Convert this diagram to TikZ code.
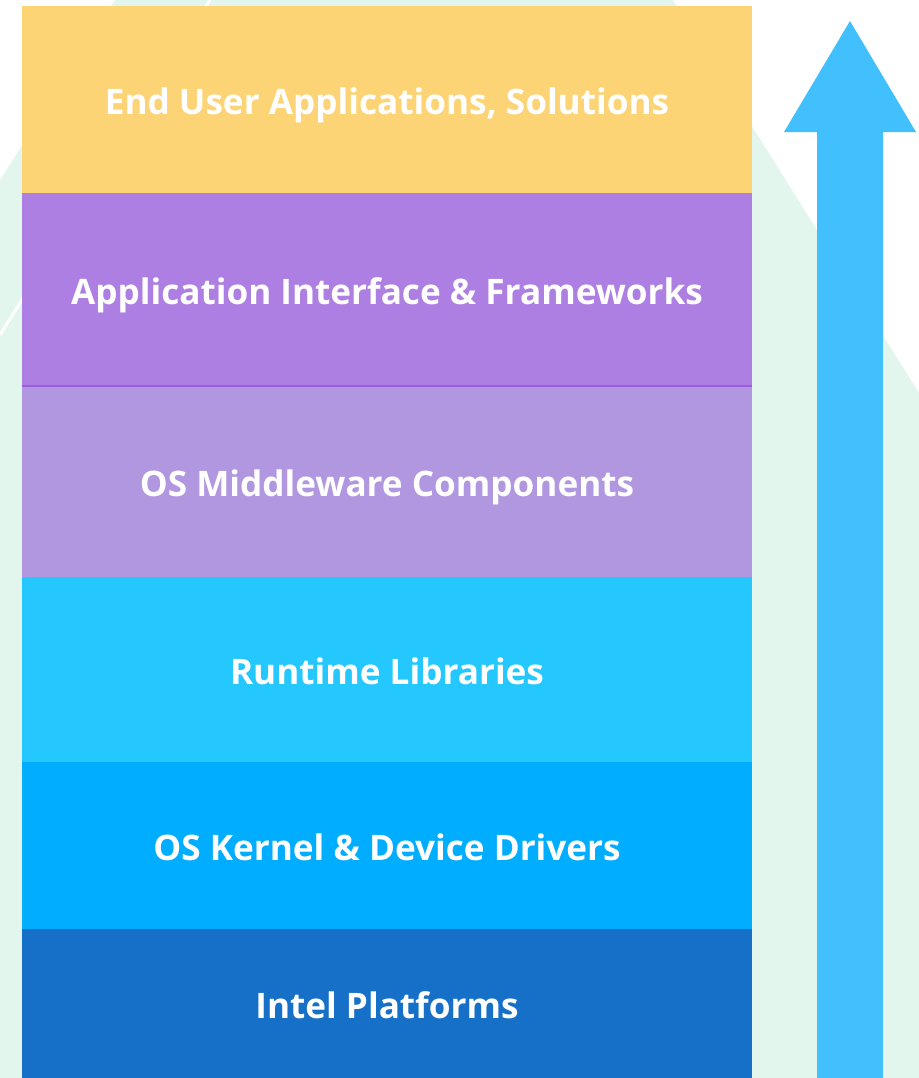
\documentclass[tikz,border=0pt]{standalone}
\usepackage{fontspec}
\setmainfont{Open Sans}
\usetikzlibrary{positioning}

\definecolor{mint}{HTML}{E3F6EE}
\definecolor{upblue}{HTML}{41C0FD}
\definecolor{cYellow}{HTML}{FDD475}
\definecolor{cPurple}{HTML}{AE7FE2}
\definecolor{cPurpleLine}{HTML}{9B5CDD}
\definecolor{cLavender}{HTML}{B097E0}
\definecolor{cCyan}{HTML}{25C7FF}
\definecolor{cBlue}{HTML}{00ADFF}
\definecolor{cDark}{HTML}{1670C7}

\tikzset{
  layer/.style={rectangle, inner sep=0pt, minimum width=14.6cm,
    text height=0.61cm, text depth=0pt,
    text=white, font=\fontsize{20}{24}\selectfont\bfseries}
}

\begin{document}
\begin{tikzpicture}[x=0.02cm, y=-0.02cm]
\useasboundingbox (0,0) rectangle (919,1078);

% Background mountain
\fill[mint] (115,0) -- (673,0) -- (919,393) -- (919,1078) -- (0,1078) -- (0,180) -- cycle;
\draw[white, line width=0.06cm] (0,335) -- (210,0);

% Upward arrow
\fill[upblue] (850,21) -- (916,132) -- (883,132) -- (883,1078)
  -- (817,1078) -- (817,132) -- (784,132) -- cycle;

% Stack of layers
\node[layer, fill=cYellow, minimum height=3.74cm] (enduser) at (387,99.5) {End User Applications, Solutions};
\node[layer, fill=cPurple, minimum height=3.86cm] (appif) at (387,289.5) {Application Interface \& Frameworks};
\node[layer, fill=cLavender, minimum height=3.82cm] (middleware) at (387,481.5) {OS Middleware Components};
\node[layer, fill=cCyan, minimum height=3.70cm] (runtime) at (387,669.5) {Runtime Libraries};
\node[layer, fill=cBlue, minimum height=3.34cm] (kernel) at (387,845.5) {OS Kernel \& Device Drivers};
\node[layer, fill=cDark, minimum height=2.98cm] (platform) at (387,1003.5) {Intel Platforms};

\draw[cPurpleLine, line width=0.04cm] (appif.south west) -- (appif.south east);

\end{tikzpicture}
\end{document}
